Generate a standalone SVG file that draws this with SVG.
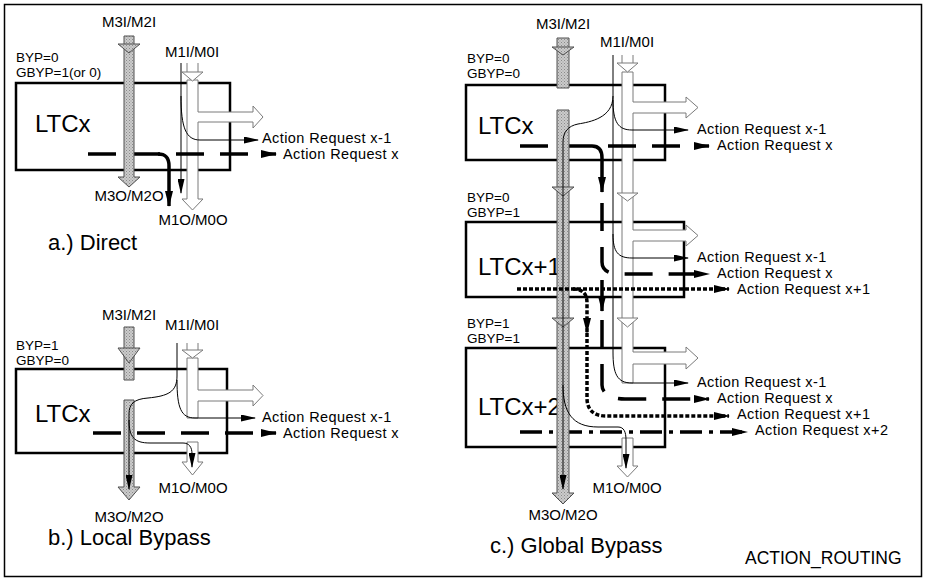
<svg xmlns="http://www.w3.org/2000/svg" width="926" height="580" viewBox="0 0 926 580">
<defs>
<marker id="ah" viewBox="0 0 16 8" refX="15" refY="4" markerWidth="16" markerHeight="8" markerUnits="userSpaceOnUse" orient="auto"><path d="M0,0 L16,4 L0,8 z" fill="#000"/></marker>
<marker id="ahs" viewBox="0 0 15 7" refX="14" refY="3.5" markerWidth="15" markerHeight="7" markerUnits="userSpaceOnUse" orient="auto"><path d="M0,0 L15,3.5 L0,7 z" fill="#000"/></marker>
<pattern id="stip" width="3" height="3" patternUnits="userSpaceOnUse"><rect width="3" height="3" fill="#cbcbcb"/><rect width="1" height="1" fill="#8a8a8a"/><rect x="1.5" y="1.5" width="1" height="1" fill="#9a9a9a"/></pattern>
</defs>
<style>
text{font-family:"Liberation Sans",Arial,sans-serif;fill:#000}
.lbl{font-size:15px}
.cfg{font-size:13.5px}
.ar{font-size:14.5px;letter-spacing:0.4px}
.big{font-size:24px}
.cap{font-size:22px}
.box{fill:none;stroke:#000;stroke-width:2.5}
.gc{fill:url(#stip);stroke:#505050;stroke-width:1}
.wa{fill:#fff;stroke:#7a7a7a;stroke-width:1}
.ws{fill:none;stroke:#7a7a7a;stroke-width:1}
.thin{fill:none;stroke:#000;stroke-width:1}
.dash{fill:none;stroke:#000;stroke-width:3.5;stroke-dasharray:28 16}
.dot{fill:none;stroke:#000;stroke-width:3.5;stroke-dasharray:4 2}
.dd{fill:none;stroke:#000;stroke-width:3.5;stroke-dasharray:22 7 4 7}
.thick{fill:none;stroke:#000;stroke-width:3.5}
</style>
<rect x="4.5" y="4.5" width="917" height="572" fill="none" stroke="#000" stroke-width="1.5"/>

<!-- Nodes -->
<g id="ltcx-a"><rect class="box" x="16" y="83" width="214" height="87"/><text class="big" x="35" y="132">LTCx</text></g>
<g id="ltcx-b"><rect class="box" x="16" y="369" width="211" height="84"/><text class="big" x="35" y="422">LTCx</text></g>
<g id="ltcx-c1"><rect class="box" x="466" y="85" width="199" height="75"/><text class="big" x="478" y="134">LTCx</text></g>
<g id="ltcx-c2"><rect class="box" x="466" y="222" width="218" height="75"/><text class="big" x="478" y="275">LTCx+1</text></g>
<g id="ltcx-c3"><rect class="box" x="466" y="348" width="199" height="99"/><text class="big" x="478" y="415">LTCx+2</text></g>

<g id="connectors">
<!-- a) -->
<g id="white-a">
<polygon class="wa" points="187,80 187,199 182,199 192.5,210 203,199 198,199 198,122 253,122 253,128 263,117 253,106 253,112 198,112 198,80"/>
<path class="ws" d="M187,63 V72 M198,63 V72"/>
<polygon class="wa" points="182,72 203,72 192.5,81"/>
</g>
<path class="dash" d="M88,154 H276" marker-end="url(#ah)"/>
<g id="gray-a">
<polygon class="gc" points="124,36 124,177 118,177 129,187 140,177 134,177 134,36"/>
<polygon class="gc" points="118,44 140,44 129,53"/>
</g>
<path class="thin" d="M181,63 V193" marker-end="url(#ahs)"/>
<path class="thin" d="M181,96 C181,128 186,140 200,140 H258" marker-end="url(#ahs)"/>
<path class="thick" d="M158,154 C166,154 169,158 169,166 V206" marker-end="url(#ah)"/>

<!-- b) -->
<g id="white-b">
<polygon class="wa" points="187,358 187,418 198,418 198,401 253,401 253,406 263,395.5 253,385 253,390 198,390 198,358"/>
<path class="ws" d="M187,343 V350 M198,343 V350"/>
<polygon class="wa" points="182,350 203,350 192.5,358"/>
<polygon class="wa" points="187,442 187,462 182,462 192.5,475 203,462 198,462 198,442"/>
</g>
<path class="dash" d="M93,433 H276" marker-end="url(#ah)"/>
<g id="gray-b">
<polygon class="gc" points="124,327 124,380 134,380 134,327"/>
<polygon class="gc" points="118,348 140,348 129,363"/>
<polygon class="gc" points="124,400 124,487 118,487 129,500 140,487 134,487 134,400"/>
</g>
<path class="thin" d="M177,343 V376 C177,392 168,396 148,398 C134,399 129,404 129,414 V489" marker-end="url(#ahs)"/>
<path class="thin" d="M177,380 C177,408 181,418 195,418 H255" marker-end="url(#ahs)"/>
<path class="thin" d="M129,420 C129,437 134,443 150,443 H183 C189,443 192,447 192,454 V467" marker-end="url(#ahs)"/>

<!-- c) -->
<g id="white-c">
<polygon class="wa" points="622,72 622,383 633,383 633,364 686,364 686,369 698,358 686,347 686,352 633,352 633,241 686,241 686,246 698,235.5 686,225 686,230 633,230 633,113 686,113 686,118 698,107.5 686,97 686,102 633,102 633,72"/>
<path class="ws" d="M622,55 V63 M633,55 V63"/>
<polygon class="wa" points="617,63 638,63 627.5,72"/>
<polygon class="wa" points="617,193 638,193 627.5,201"/>
<polygon class="wa" points="617,318 638,318 627.5,327"/>
<polygon class="wa" points="622,438 622,466 617,466 627.5,477 638,466 633,466 633,438"/>
</g>
<path class="dash" d="M520,146 H709" marker-end="url(#ah)"/>
<path class="dash" d="M602,203 V262 C602,270 608,274 620,274 H709" marker-end="url(#ah)"/>
<path class="dash" d="M602,320 V385 C602,393 610,399 625,399 H709" marker-end="url(#ah)"/>
<path class="thick" d="M592,146 C599,146 602,150 602,158 V192" marker-end="url(#ah)"/>
<path class="thick" d="M602,280 V311" marker-end="url(#ah)"/>
<path class="dd" d="M520,432 H747" marker-end="url(#ah)"/>
<g id="gray-c">
<polygon class="gc" points="557,38 557,88 569,88 569,38"/>
<polygon class="gc" points="552,47 574,47 563,55"/>
<polygon class="gc" points="557,110 557,493 552,493 563,504 574,493 569,493 569,110"/>
<polygon class="gc" points="552,187 574,187 563,196"/>
<polygon class="gc" points="552,318 574,318 563,327"/>
</g>
<path class="dot" d="M517,289 H729" marker-end="url(#ah)"/>
<path class="dot" d="M573,289 C582,289 587,293 587,303 V333" marker-end="url(#ah)"/>
<path class="dot" d="M587,333 V398 C587,410 594,416 606,416 H729" marker-end="url(#ah)"/>
<path class="thin" d="M613,55 V352 C613,374 617,383 632,383 H688" marker-end="url(#ahs)"/>
<path class="thin" d="M613,96 C613,118 590,122 578,124 C568,126 563,132 563,142 V489" marker-end="url(#ahs)"/>
<path class="thin" d="M613,100 C613,122 618,130 632,130 H688" marker-end="url(#ahs)"/>
<path class="thin" d="M613,234 C613,252 618,258 632,258 H688" marker-end="url(#ahs)"/>
<path class="thin" d="M563,385 C563,412 572,427 598,427 H618 C624,427 626,432 626,440 V468" marker-end="url(#ahs)"/>
</g>

<g id="labels">
<text class="lbl" x="129" y="27" text-anchor="middle">M3I/M2I</text>
<text class="lbl" x="192" y="57" text-anchor="middle">M1I/M0I</text>
<text class="cfg" x="16" y="62">BYP=0</text>
<text class="cfg" x="16" y="77">GBYP=1(or 0)</text>
<text class="ar" x="262" y="143">Action Request x-1</text>
<text class="ar" x="283" y="159">Action Request x</text>
<text class="lbl" x="129" y="201" text-anchor="middle">M3O/M2O</text>
<text class="lbl" x="193" y="225" text-anchor="middle">M1O/M0O</text>
<text class="cap" x="48" y="250">a.) Direct</text>

<text class="lbl" x="129" y="320" text-anchor="middle">M3I/M2I</text>
<text class="lbl" x="192" y="330" text-anchor="middle">M1I/M0I</text>
<text class="cfg" x="16" y="350">BYP=1</text>
<text class="cfg" x="16" y="365">GBYP=0</text>
<text class="ar" x="262" y="422">Action Request x-1</text>
<text class="ar" x="283" y="438">Action Request x</text>
<text class="lbl" x="193" y="493" text-anchor="middle">M1O/M0O</text>
<text class="lbl" x="129" y="522" text-anchor="middle">M3O/M2O</text>
<text class="cap" x="48" y="545">b.) Local Bypass</text>

<text class="lbl" x="563" y="29" text-anchor="middle">M3I/M2I</text>
<text class="lbl" x="627" y="47" text-anchor="middle">M1I/M0I</text>
<text class="cfg" x="467" y="63">BYP=0</text>
<text class="cfg" x="467" y="78">GBYP=0</text>
<text class="ar" x="697" y="134">Action Request x-1</text>
<text class="ar" x="717" y="150">Action Request x</text>
<text class="cfg" x="467" y="202">BYP=0</text>
<text class="cfg" x="467" y="217">GBYP=1</text>
<text class="ar" x="697" y="262">Action Request x-1</text>
<text class="ar" x="717" y="278">Action Request x</text>
<text class="ar" x="737" y="294">Action Request x+1</text>
<text class="cfg" x="467" y="328">BYP=1</text>
<text class="cfg" x="467" y="343">GBYP=1</text>
<text class="ar" x="697" y="387">Action Request x-1</text>
<text class="ar" x="717" y="403">Action Request x</text>
<text class="ar" x="737" y="419">Action Request x+1</text>
<text class="ar" x="755" y="435">Action Request x+2</text>
<text class="lbl" x="627" y="493" text-anchor="middle">M1O/M0O</text>
<text class="lbl" x="563" y="520" text-anchor="middle">M3O/M2O</text>
<text class="cap" x="490" y="553">c.) Global Bypass</text>
<text x="745" y="564" style="font-size:17.5px">ACTION_ROUTING</text>
</g>
</svg>
